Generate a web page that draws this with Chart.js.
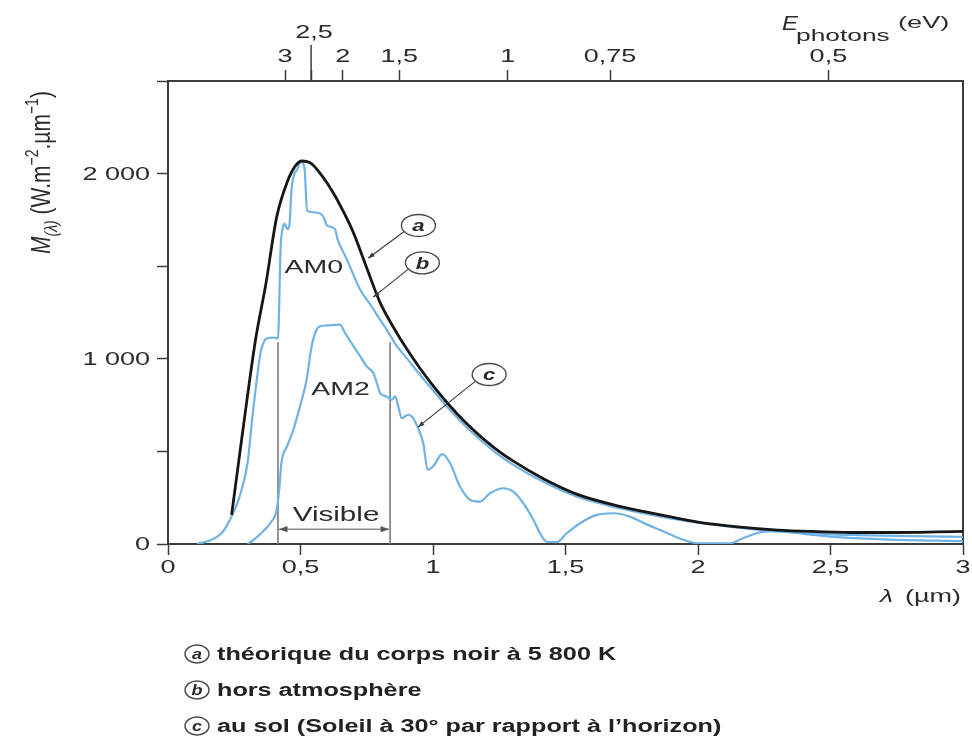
<!DOCTYPE html>
<html>
<head>
<meta charset="utf-8">
<script src="https://cdn.jsdelivr.net/npm/chart.js@4.4.0/dist/chart.umd.min.js"></script>
<style>
    html, body { margin: 0; padding: 0; background: #fff; }
</style>
</head>
<body>
<canvas id="chart-spectre" width="972" height="747"></canvas>
<script>
// axes
const wavelengthTicks = [0, 0.5, 1, 1.5, 2, 2.5, 3];
const wavelengthLabels = ['0', '0,5', '1', '1,5', '2', '2,5', '3'];
const irradianceTicks = [0, 500, 1000, 1500, 2000, 2500];
const irradianceLabels = ['0', '', '1 000', '', '2 000', ''];
const photonEnergyLabels = ['3', '2,5', '2', '1,5', '1', '0,75', '0,5'];
const photonEnergyLambda = [0.442, 0.540, 0.659, 0.873, 1.282, 1.668, 2.492];

// (a) corps noir 5 800 K
const blackBodyLambda = [0.24, 0.27, 0.30, 0.33, 0.37, 0.41, 0.45, 0.48, 0.505, 0.54, 0.58, 0.62, 0.66, 0.70, 0.75, 0.80, 0.85, 0.90, 0.95, 1.0, 1.06, 1.12, 1.18, 1.24, 1.30, 1.42, 1.55, 1.70, 1.85, 2.0, 2.15, 2.30, 2.45, 2.60, 2.75, 2.90, 3.0];
const blackBodyM = [157, 480, 800, 1100, 1410, 1765, 1955, 2040, 2068, 2055, 1990, 1905, 1800, 1680, 1490, 1305, 1172, 1055, 950, 855, 752, 660, 580, 510, 450, 350, 265, 205, 160, 118, 92, 75, 67, 62, 62, 65, 68];

// (b) AM0 hors atmosphère
const am0Lambda = [0.11, 0.16, 0.20, 0.22, 0.25, 0.27, 0.30, 0.32, 0.335, 0.35, 0.365, 0.38, 0.40, 0.415, 0.425, 0.432, 0.44, 0.45, 0.458, 0.467, 0.49, 0.50, 0.515, 0.525, 0.555, 0.585, 0.60, 0.63, 0.64, 0.675, 0.725, 0.76, 0.80, 0.825, 0.86, 0.90, 0.95, 1.0, 1.06, 1.12, 1.18, 1.24, 1.30, 1.42, 1.55, 1.70, 1.85, 2.0, 2.15, 2.30, 2.45, 2.60, 2.80, 3.0];
const am0M = [0, 20, 55, 94, 180, 256, 436, 707, 887, 1040, 1100, 1112, 1115, 1110, 1600, 1700, 1730, 1700, 1720, 1930, 2030, 2065, 2030, 1800, 1790, 1770, 1720, 1700, 1645, 1537, 1374, 1300, 1212, 1158, 1075, 1005, 915, 830, 730, 640, 560, 490, 430, 333, 252, 195, 150, 115, 88, 68, 55, 48, 42, 38];

// (c) AM2 au sol
const am2Lambda = [0.30, 0.33, 0.36, 0.39, 0.41, 0.42, 0.428, 0.45, 0.473, 0.498, 0.523, 0.542, 0.561, 0.574, 0.60, 0.649, 0.668, 0.70, 0.725, 0.75, 0.775, 0.79, 0.80, 0.825, 0.844, 0.857, 0.869, 0.882, 0.907, 0.925, 0.938, 0.963, 0.98, 1.0, 1.035, 1.064, 1.102, 1.14, 1.177, 1.215, 1.265, 1.303, 1.341, 1.379, 1.404, 1.429, 1.467, 1.505, 1.555, 1.618, 1.68, 1.743, 1.80, 1.857, 1.945, 2.0, 2.12, 2.17, 2.246, 2.30, 2.40, 2.50, 2.70, 3.0];
const am2M = [0, 30, 70, 120, 184, 300, 438, 530, 617, 743, 887, 1068, 1158, 1176, 1180, 1185, 1140, 1068, 1014, 959, 923, 860, 815, 797, 779, 797, 743, 680, 698, 680, 644, 545, 400, 418, 485, 437, 310, 238, 229, 274, 301, 283, 220, 130, 58, 12, 10, 58, 112, 157, 166, 148, 110, 76, 22, 4, 4, 31, 67, 70, 55, 40, 25, 15];

// limites du visible
const visibleLambda = [0.415, 0.838];
const visibleTop = 1090;

const FONT = "'Liberation Sans', Arial, sans-serif";
const AXIS_COLOR = '#3c3c3c';
const TEXT_COLOR = '#2b2b2b';
const BLUE = '#70b2e4';
const STRETCH = 1.5; // le texte de la figure est étiré horizontalement

const toPoints = (xs, ys) => xs.map((x, i) => ({ x: x, y: ys[i] }));

function fixedSize(prop, size) {
    return (scale) => { scale[prop] = size; };
}

function wideText(ctx, text, x, y, font, sx, align) {
    ctx.save();
    ctx.font = font;
    ctx.textAlign = align || 'center';
    ctx.textBaseline = 'middle';
    ctx.translate(x, y);
    ctx.scale(sx, 1);
    ctx.fillText(text, 0, 0);
    ctx.restore();
}

function arrow(ctx, x1, y1, x2, y2, head) {
    const ang = Math.atan2(y2 - y1, x2 - x1);
    ctx.beginPath();
    ctx.moveTo(x1, y1);
    ctx.lineTo(x2, y2);
    ctx.stroke();
    ctx.beginPath();
    ctx.moveTo(x2, y2);
    ctx.lineTo(x2 - head * Math.cos(ang - 0.35), y2 - head * Math.sin(ang - 0.35));
    ctx.lineTo(x2 - head * Math.cos(ang + 0.35), y2 - head * Math.sin(ang + 0.35));
    ctx.closePath();
    ctx.fill();
}

function drawRuns(ctx, runs, x, y) {
    // runs: [texte, police, décalage vertical]
    let cx = x;
    runs.forEach(([t, f, dy]) => {
        ctx.font = f;
        ctx.fillText(t, cx, y + dy);
        cx += ctx.measureText(t).width;
    });
    return cx;
}

function circled(ctx, x, y, letter, rx, ry, size, sx) {
    ctx.save();
    ctx.strokeStyle = '#4a4a4a';
    ctx.lineWidth = 1.4;
    ctx.beginPath();
    ctx.ellipse(x, y, rx, ry, 0, 0, Math.PI * 2);
    ctx.stroke();
    ctx.fillStyle = '#2a2a2a';
    wideText(ctx, letter, x, y + 1, `italic bold ${size}px ${FONT}`, sx, 'center');
    ctx.restore();
}

// annotations en coordonnées (λ, M)
const callouts = [
    { letter: 'a', at: [0.945, 1720], to: [0.755, 1543] },
    { letter: 'b', at: [0.960, 1518], to: [0.774, 1333] },
    { letter: 'c', at: [1.212, 915], to: [0.943, 631] }
];

const extrasPlugin = {
    id: 'extras',
    afterDraw(chart) {
        const ctx = chart.ctx;
        const xs = chart.scales.x;
        const xt = chart.scales.xTop;
        const ys = chart.scales.y;
        const px = (v) => xs.getPixelForValue(v);
        const py = (v) => ys.getPixelForValue(v);
        const area = chart.chartArea;
        ctx.save();
        ctx.fillStyle = TEXT_COLOR;

        // étiquettes des graduations
        const tickFont = `18px ${FONT}`;
        xs.ticks.forEach((t, i) => wideText(ctx, wavelengthLabels[i], xs.getPixelForValue(t.value), 568, tickFont, STRETCH, 'center'));
        ys.ticks.forEach((t, i) => wideText(ctx, irradianceLabels[i], 150, ys.getPixelForValue(t.value) + 1, tickFont, STRETCH, 'right'));
        xt.ticks.forEach((t, i) => {
            const x = xt.getPixelForValue(t.value);
            wideText(ctx, photonEnergyLabels[i], x + (i === 1 ? 3 : 0), i === 1 ? 33 : 57, tickFont, STRETCH, 'center');
        });

        // tick long 2,5 eV
        const x25 = xt.getPixelForValue(photonEnergyLambda[1]);
        ctx.strokeStyle = AXIS_COLOR;
        ctx.lineWidth = 1.5;
        ctx.beginPath();
        ctx.moveTo(x25, area.top);
        ctx.lineTo(x25, area.top - 36);
        ctx.stroke();

        // titre axe supérieur
        wideText(ctx, 'E', 782, 24, `italic 20px ${FONT}`, 1.2, 'left');
        wideText(ctx, 'photons', 796, 36, `17px ${FONT}`, 1.55, 'left');
        wideText(ctx, '(eV)', 898, 24, `16px ${FONT}`, 1.7, 'left');

        // titre axe x
        wideText(ctx, 'λ', 880, 597, `italic 19px ${FONT}`, 1.4, 'left');
        wideText(ctx, '(µm)', 961, 597, `18px ${FONT}`, 1.5, 'right');

        // titre axe y (texte tourné)
        ctx.save();
        ctx.translate(50, 254);
        ctx.rotate(-Math.PI / 2);
        ctx.scale(1, 1.3);
        ctx.textAlign = 'left';
        ctx.textBaseline = 'alphabetic';
        drawRuns(ctx, [
            ['M', `italic 21px ${FONT}`, 0],
            ['(λ)', `italic 14px ${FONT}`, 5],
            [' (W.m', `21px ${FONT}`, 0],
            ['−2', `14px ${FONT}`, -9],
            ['.µm', `21px ${FONT}`, 0],
            ['−1', `14px ${FONT}`, -9],
            [')', `21px ${FONT}`, 0]
        ], 0, 0);
        ctx.restore();

        // AM0 / AM2
        wideText(ctx, 'AM0', px(0.55), py(1492), `19px ${FONT}`, 1.5, 'center');
        wideText(ctx, 'AM2', px(0.651), py(835), `19px ${FONT}`, 1.5, 'center');

        // visible
        const xl = px(visibleLambda[0]);
        const xr = px(visibleLambda[1]);
        const ya = py(80);
        wideText(ctx, 'Visible', (xl + xr) / 2 + 2, py(155), `20px ${FONT}`, 1.48, 'center');
        ctx.strokeStyle = '#555';
        ctx.fillStyle = '#555';
        ctx.lineWidth = 1;
        arrow(ctx, (xl + xr) / 2, ya, xl + 1, ya, 9);
        arrow(ctx, (xl + xr) / 2, ya, xr - 1, ya, 9);

        // bulles a, b, c
        ctx.strokeStyle = '#3a3a3a';
        ctx.fillStyle = '#3a3a3a';
        ctx.lineWidth = 1.1;
        callouts.forEach((c) => {
            const cx = px(c.at[0]), cy = py(c.at[1]);
            const tx = px(c.to[0]), ty = py(c.to[1]);
            const ang = Math.atan2(ty - cy, tx - cx);
            const sx = cx + 17 * Math.cos(ang), sy = cy + 11 * Math.sin(ang);
            arrow(ctx, sx, sy, tx, ty, 7);
            circled(ctx, cx, cy, c.letter, 17, 11, 17, 1.3);
        });

        // légende
        const legend = [
            ['a', 'théorique du corps noir à 5 800 K'],
            ['b', 'hors atmosphère'],
            ['c', 'au sol (Soleil à 30° par rapport à l\u2019horizon)']
        ];
        legend.forEach(([l, t], i) => {
            const y = 654 + i * 36;
            circled(ctx, 197, y, l, 12, 9, 15, 1.2);
            ctx.fillStyle = '#222';
            wideText(ctx, t, 217, y + 1, `bold 18px ${FONT}`, 1.4, 'left');
        });
        ctx.restore();
    }
};

const commonLine = {
    fill: false,
    pointRadius: 0,
    cubicInterpolationMode: 'monotone'
};

const tickGrid = { drawOnChartArea: false, tickLength: 11, tickColor: AXIS_COLOR, tickWidth: 1.5 };

new Chart(document.getElementById('chart-spectre').getContext('2d'), {
    type: 'line',
    data: {
        datasets: [
            { ...commonLine, label: 'a', data: toPoints(blackBodyLambda, blackBodyM), borderColor: '#161616', borderWidth: 2.8 },
            { ...commonLine, label: 'b', data: toPoints(am0Lambda, am0M), borderColor: BLUE, borderWidth: 2.2 },
            { ...commonLine, label: 'c', data: toPoints(am2Lambda, am2M), borderColor: BLUE, borderWidth: 2.2 },
            { label: 'vis1', data: toPoints([visibleLambda[0], visibleLambda[0]], [0, visibleTop]), borderColor: '#7a7a7a', borderWidth: 1.6, pointRadius: 0, tension: 0 },
            { label: 'vis2', data: toPoints([visibleLambda[1], visibleLambda[1]], [0, visibleTop]), borderColor: '#7a7a7a', borderWidth: 1.6, pointRadius: 0, tension: 0 }
        ]
    },
    options: {
        responsive: false,
        animation: false,
        parsing: false,
        layout: { padding: 0 },
        plugins: {
            legend: { display: false },
            tooltip: { enabled: false }
        },
        scales: {
            x: {
                type: 'linear',
                position: 'bottom',
                min: 0,
                max: 3,
                afterBuildTicks: (axis) => { axis.ticks = wavelengthTicks.map(v => ({ value: v })); },
                afterFit: fixedSize('height', 203),
                ticks: { display: false },
                grid: tickGrid,
                border: { color: AXIS_COLOR, width: 2 }
            },
            xTop: {
                type: 'linear',
                position: 'top',
                min: 0,
                max: 3,
                afterBuildTicks: (axis) => { axis.ticks = photonEnergyLambda.map(v => ({ value: v })); },
                afterFit: fixedSize('height', 81),
                ticks: { display: false },
                grid: tickGrid,
                border: { color: AXIS_COLOR, width: 2 }
            },
            y: {
                type: 'linear',
                position: 'left',
                min: 0,
                max: 2500,
                afterBuildTicks: (axis) => { axis.ticks = irradianceTicks.map(v => ({ value: v })); },
                afterFit: fixedSize('width', 168),
                ticks: { display: false },
                grid: tickGrid,
                border: { color: AXIS_COLOR, width: 2 }
            },
            yRight: {
                type: 'linear',
                position: 'right',
                min: 0,
                max: 2500,
                afterFit: fixedSize('width', 9),
                ticks: { display: false },
                grid: { drawOnChartArea: false, drawTicks: false },
                border: { color: AXIS_COLOR, width: 2 }
            }
        }
    },
    plugins: [extrasPlugin]
});
</script>
</body>
</html>
